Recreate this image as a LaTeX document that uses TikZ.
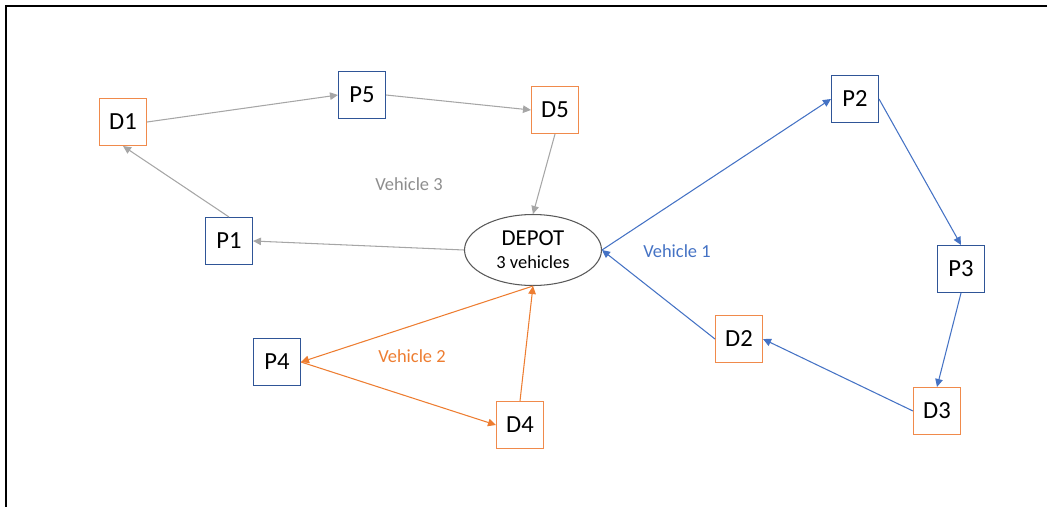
\documentclass[tikz,border=0pt]{standalone}
\usepackage{fontspec}
\setmainfont{Carlito}
\usetikzlibrary{arrows.meta,shapes.geometric}
\definecolor{pickup}{HTML}{2F5597}
\definecolor{dropoff}{HTML}{F08A4B}
\definecolor{vblue}{HTML}{4472C4}
\definecolor{vorange}{HTML}{ED7D31}
\definecolor{vgrey}{HTML}{A6A6A6}
\definecolor{depotline}{HTML}{595959}

\begin{document}
\begin{tikzpicture}[x=0.02cm,y=-0.02cm,
  pbox/.style={draw=pickup,fill=white,line width=0.6pt,minimum size=0.94cm,inner sep=0pt,
               font=\fontsize{14}{16}\selectfont},
  dbox/.style={pbox,draw=dropoff},
  depot/.style={ellipse,draw=depotline,line width=0.6pt,minimum width=2.74cm,minimum height=1.42cm,
                align=center,inner sep=0pt},
  lbl/.style={font=\fontsize{10.5}{12}\selectfont},
  arr/.style={-{Triangle[length=1.6mm,width=1.5mm]},line width=0.6pt}]
  \useasboundingbox (0,0) rectangle (1052,507);
  % frame lines, top and left only
  \draw[line width=1pt] (1047,6) -- (6,6) -- (6,507);

  \node[depot] (dep) at (533,250) {{\fontsize{13}{14}\selectfont DEPOT}\\[1pt]{\fontsize{10.5}{12}\selectfont 3 vehicles}};
  \node[dbox] (d1) at (123,122) {D1};
  \node[pbox] (p5) at (362,95) {P5};
  \node[dbox] (d5) at (555,110) {D5};
  \node[pbox] (p1) at (229,241) {P1};
  \node[pbox] (p2) at (855,99) {P2};
  \node[pbox] (p3) at (961,269) {P3};
  \node[dbox] (d3) at (937,411) {D3};
  \node[dbox] (d2) at (739,339) {D2};
  \node[pbox] (p4) at (277,362) {P4};
  \node[dbox] (d4) at (520,425) {D4};

  \node[lbl,text=vgrey!85!black] (v3) at (409,184) {Vehicle 3};
  \node[lbl,text=vblue] (v1) at (677,251) {Vehicle 1};
  \node[lbl,text=vorange] (v2) at (412,356) {Vehicle 2};

  % vehicle 3
  \draw[arr,vgrey] (dep.west) -- (p1.east);
  \draw[arr,vgrey] (p1.north) -- (d1.south);
  \draw[arr,vgrey] (d1.east) -- (p5.west);
  \draw[arr,vgrey] (p5.east) -- (d5.west);
  \draw[arr,vgrey] (d5.south) -- (dep.north);
  % vehicle 1
  \draw[arr,vblue] (dep.east) -- (p2.west);
  \draw[arr,vblue] (p2.east) -- (p3.north);
  \draw[arr,vblue] (p3.south) -- (d3.north);
  \draw[arr,vblue] (d3.west) -- (d2.east);
  \draw[arr,vblue] (d2.west) -- (dep.east);
  % vehicle 2
  \draw[arr,vorange] (dep.south) -- (p4.east);
  \draw[arr,vorange] (p4.east) -- (d4.west);
  \draw[arr,vorange] (d4.north) -- (dep.south);
\end{tikzpicture}
\end{document}
